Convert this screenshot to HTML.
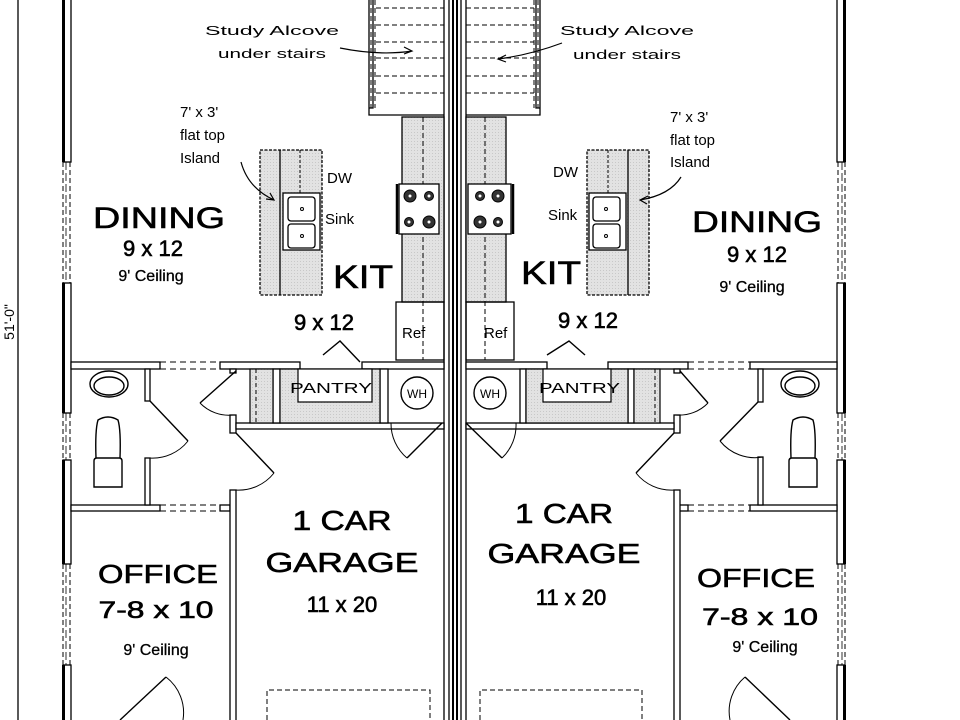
<!DOCTYPE html>
<html><head><meta charset="utf-8"><style>
html,body{margin:0;padding:0;background:#fff}
svg{display:block}
text{font-family:"Liberation Sans",sans-serif;fill:#000}
.b{stroke:#000;stroke-width:0.6}
</style></head><body>
<svg width="960" height="720" viewBox="0 0 960 720" xmlns="http://www.w3.org/2000/svg">
<defs>
<pattern id="h" width="3" height="3" patternUnits="userSpaceOnUse"><rect width="3" height="3" fill="#e2e2e2"/><rect width="1" height="1" fill="#c8c8c8"/></pattern>
</defs>
<g stroke="#000" fill="none" stroke-width="1.3">
<line x1="18" y1="0" x2="18" y2="720"/>
</g>
<text transform="translate(14,322) rotate(-90)" font-size="14" text-anchor="middle">51'-0"</text>

<g stroke="#000" stroke-width="1.3" fill="#fff">
<rect x="63" y="-5" width="8" height="167"/><rect x="63" y="283" width="8" height="130"/><rect x="63" y="460" width="8" height="104"/><rect x="63" y="665" width="8" height="60"/>
<rect x="837" y="-5" width="8" height="167"/><rect x="837" y="283" width="8" height="130"/><rect x="837" y="460" width="8" height="104"/><rect x="837" y="665" width="8" height="60"/>
</g>
<g fill="#000">
<rect x="62" y="-5" width="3" height="167"/><rect x="62" y="283" width="3" height="130"/><rect x="62" y="460" width="3" height="104"/><rect x="62" y="665" width="3" height="60"/>
<rect x="843" y="-5" width="3" height="167"/><rect x="843" y="283" width="3" height="130"/><rect x="843" y="460" width="3" height="104"/><rect x="843" y="665" width="3" height="60"/>
</g>
<g stroke="#000" stroke-width="1" stroke-dasharray="5,3">
<path d="M63 162V283M70 162V283M63 413V460M70 413V460M63 564V665M70 564V665"/>
<path d="M838 162V283M845 162V283M838 413V460M845 413V460M838 564V665M845 564V665"/>
</g>
<g stroke="#000" stroke-width="0.8" stroke-dasharray="8,3">
<path d="M66 162V283M66 413V460M66 564V665M842 162V283M842 413V460M842 564V665"/>
</g>

<g stroke="#000" stroke-width="1.3" fill="none">
<path d="M369 0V115H444M540 0V115H466"/>
<path d="M373 0V108H369M536 0V108H540"/>
</g>
<g stroke="#000" stroke-width="1" stroke-dasharray="5,3" fill="none">
<path d="M376 8H444M376 25H444M376 42H444M376 58H444M376 76H444M376 93H444"/>
<path d="M466 8H534M466 25H534M466 42H534M466 58H534M466 76H534M466 93H534"/>
<path d="M371 0V108M375 0V108M534 0V108M538 0V108"/>
</g>

<g stroke="#000" stroke-width="1.3">
<line x1="444" y1="0" x2="444" y2="720"/><line x1="449" y1="0" x2="449" y2="720"/>
<line x1="461" y1="0" x2="461" y2="720"/><line x1="466" y1="0" x2="466" y2="720"/>
</g>
<rect x="452" y="0" width="6" height="720" fill="#000"/>
<rect x="454" y="0" width="2" height="720" fill="#fff"/>

<g stroke="#000" stroke-width="1.3">
<rect x="402" y="117" width="42" height="185" fill="url(#h)"/>
<rect x="466" y="117" width="40" height="185" fill="url(#h)"/>
<line x1="423" y1="117" x2="423" y2="360" stroke-dasharray="5,3" stroke-width="1"/>
<line x1="485" y1="117" x2="485" y2="360" stroke-dasharray="5,3" stroke-width="1"/>
<rect x="399" y="184" width="40" height="50" fill="#fff"/>
<rect x="468" y="184" width="43" height="50" fill="#fff"/>
<line x1="397" y1="184" x2="397" y2="234" stroke-width="2.5"/>
<line x1="513" y1="184" x2="513" y2="234" stroke-width="2.5"/>
<rect x="396" y="302" width="48" height="58" fill="none"/>
<rect x="466" y="302" width="48" height="58" fill="none"/>
</g>
<g fill="#333" stroke="#000">
<circle cx="410" cy="196" r="6"/><circle cx="429" cy="196" r="4.5"/><circle cx="409" cy="222" r="4.5"/><circle cx="429" cy="222" r="6"/>
<circle cx="480" cy="196" r="4.5"/><circle cx="498" cy="196" r="6"/><circle cx="480" cy="222" r="6"/><circle cx="498" cy="222" r="4.5"/>
</g>
<g fill="#fff"><circle cx="410" cy="196" r="1.5"/><circle cx="429" cy="196" r="1.5"/><circle cx="409" cy="222" r="1.5"/><circle cx="429" cy="222" r="1.5"/><circle cx="480" cy="196" r="1.5"/><circle cx="498" cy="196" r="1.5"/><circle cx="480" cy="222" r="1.5"/><circle cx="498" cy="222" r="1.5"/></g>

<g stroke="#000" stroke-width="1.3">
<rect x="260" y="150" width="62" height="145" fill="url(#h)" stroke-dasharray="3,1.5"/>
<line x1="280" y1="150" x2="280" y2="295"/>
<rect x="283" y="193" width="37" height="57" fill="#fff"/>
<rect x="288" y="197" width="27" height="24" rx="3" fill="#fff"/><rect x="288" y="224" width="27" height="24" rx="3" fill="#fff"/>
<rect x="587" y="150" width="62" height="145" fill="url(#h)" stroke-dasharray="3,1.5"/>
<line x1="628" y1="150" x2="628" y2="295"/>
<rect x="589" y="193" width="37" height="57" fill="#fff"/>
<rect x="593" y="197" width="27" height="24" rx="3" fill="#fff"/><rect x="593" y="224" width="27" height="24" rx="3" fill="#fff"/>
</g>
<g stroke="#000" stroke-width="1" fill="none">
<line x1="300" y1="150" x2="300" y2="193" stroke-dasharray="3,2"/>
<line x1="608" y1="150" x2="608" y2="193" stroke-dasharray="3,2"/>
<circle cx="302" cy="209" r="1.5"/><circle cx="302" cy="236" r="1.5"/>
<circle cx="606" cy="209" r="1.5"/><circle cx="606" cy="236" r="1.5"/>
</g>

<g stroke="#000" stroke-width="1.2" fill="none">
<path d="M340 48 Q380 56 412 51M404 47L412 51L404 54"/>
<path d="M562 43 Q530 55 498 59M506 55L498 59L506 62"/>
<path d="M241 162 Q248 188 274 200M266 199L274 200L270 193"/>
<path d="M681 177 Q670 195 640 200M648 196L640 200L647 204"/>
</g>

<g stroke="#000" stroke-width="1.3" fill="#fff">
<rect x="71" y="362" width="89" height="7"/>
<rect x="220" y="362" width="80" height="7"/>
<rect x="362" y="362" width="82" height="7"/>
<rect x="466" y="362" width="81" height="7"/>
<rect x="608" y="362" width="80" height="7"/>
<rect x="750" y="362" width="87" height="7"/>
<rect x="71" y="505" width="89" height="6"/>
<rect x="220" y="505" width="10" height="6"/>
<rect x="678" y="505" width="10" height="6"/>
<rect x="750" y="505" width="87" height="6"/>
<rect x="145" y="369" width="5" height="32"/><rect x="145" y="458" width="5" height="47"/>
<rect x="758" y="369" width="5" height="33"/><rect x="758" y="457" width="5" height="48"/>
<rect x="230" y="369" width="6" height="4"/><rect x="230" y="415" width="6" height="18"/><rect x="230" y="490" width="6" height="235"/>
<rect x="674" y="369" width="6" height="4"/><rect x="674" y="415" width="6" height="18"/><rect x="674" y="490" width="6" height="235"/>
<rect x="236" y="423" width="208" height="6"/>
<rect x="466" y="423" width="208" height="6"/>
<rect x="273" y="369" width="7" height="54"/><rect x="380" y="369" width="8" height="54"/>
<rect x="520" y="369" width="6" height="54"/><rect x="628" y="369" width="6" height="54"/>
</g>
<g stroke="#000" stroke-width="1" stroke-dasharray="6,4">
<path d="M160 362H220M160 369H220M160 505H220M160 511H220M688 362H750M688 369H750M688 505H750M688 511H750"/>
</g>
<g stroke="#000" stroke-width="1.2">
<rect x="250" y="369" width="23" height="54" fill="url(#h)"/>
<line x1="256" y1="369" x2="256" y2="423" stroke-dasharray="4,3" stroke-width="1"/>
<path d="M280 369H380V423H280Z" fill="url(#h)"/>
<rect x="298" y="369" width="74" height="33" fill="#fff"/>
<path d="M526 369H628V423H526Z" fill="url(#h)"/>
<rect x="543" y="369" width="68" height="33" fill="#fff"/>
<rect x="634" y="369" width="26" height="54" fill="url(#h)"/>
<line x1="655" y1="369" x2="655" y2="423" stroke-dasharray="4,3" stroke-width="1"/>
</g>
<g stroke="#000" stroke-width="1.4" fill="none">
<path d="M323 355L340 341L360 362"/>
<path d="M547 355L569 341L585 355"/>
<path d="M150 401L188 441"/><path d="M188 441A45 45 0 0 1 150 458" stroke-width="1"/>
<path d="M758 402L720 441"/><path d="M720 441A45 45 0 0 0 763 457" stroke-width="1"/>
<path d="M236 371L200 403"/><path d="M200 403A40 40 0 0 0 233 415" stroke-width="1"/>
<path d="M680 371L708 403"/><path d="M708 403A40 40 0 0 1 676 415" stroke-width="1"/>
<path d="M236 433L274 473"/><path d="M274 473A45 45 0 0 1 236 490" stroke-width="1"/>
<path d="M674 433L636 473"/><path d="M636 473A45 45 0 0 0 674 490" stroke-width="1"/>
<path d="M442 423L407 458"/><path d="M407 458A45 45 0 0 1 391 423" stroke-width="1"/>
<path d="M466 423L502 458"/><path d="M502 458A45 45 0 0 0 516 423" stroke-width="1"/>
<path d="M120 720L166 677"/><path d="M166 677A45 45 0 0 1 183 720" stroke-width="1"/>
<path d="M790 720L745 677"/><path d="M745 677A45 45 0 0 0 730 720" stroke-width="1"/>
<circle cx="417" cy="393" r="16"/><circle cx="490" cy="393" r="16"/>
<ellipse cx="109" cy="384" rx="19" ry="13"/><ellipse cx="109" cy="386" rx="15" ry="9"/>
<ellipse cx="800" cy="384" rx="19" ry="13"/><ellipse cx="800" cy="386" rx="15" ry="9"/>
<path d="M94 487V461Q94 458 97 458H119Q122 458 122 461V487Z"/>
<path d="M96 458Q95 430 98 420Q108 414 118 420Q121 430 120 458"/>
<path d="M789 487V461Q789 458 792 458H814Q817 458 817 461V487Z"/>
<path d="M791 458Q790 430 793 420Q803 414 813 420Q816 430 815 458"/>
</g>
<g stroke="#000" stroke-width="1" stroke-dasharray="5,3" fill="none">
<path d="M267 720V690H430V720"/>
<path d="M480 720V690H642V720"/>
</g>

<g font-size="13">
<text x="272" y="35" text-anchor="middle" textLength="134" lengthAdjust="spacingAndGlyphs">Study Alcove</text>
<text x="272" y="58" text-anchor="middle" textLength="108" lengthAdjust="spacingAndGlyphs">under stairs</text>
<text x="627" y="35" text-anchor="middle" textLength="134" lengthAdjust="spacingAndGlyphs">Study Alcove</text>
<text x="627" y="59" text-anchor="middle" textLength="108" lengthAdjust="spacingAndGlyphs">under stairs</text>
<text x="180" y="117" font-size="15">7' x 3'</text>
<text x="180" y="140" font-size="15">flat top</text>
<text x="180" y="163" font-size="15">Island</text>
<text x="670" y="122" font-size="15">7' x 3'</text>
<text x="670" y="145" font-size="15">flat top</text>
<text x="670" y="167" font-size="15">Island</text>
<text x="327" y="183" font-size="15">DW</text>
<text x="325" y="224" font-size="15">Sink</text>
<text x="553" y="177" font-size="15">DW</text>
<text x="548" y="220" font-size="15">Sink</text>
<text x="402" y="338" font-size="15">Ref</text>
<text x="484" y="338" font-size="15">Ref</text>
<text x="417" y="398" font-size="12" text-anchor="middle">WH</text>
<text x="490" y="398" font-size="12" text-anchor="middle">WH</text>
<text x="290" y="393" font-size="15" textLength="82" lengthAdjust="spacingAndGlyphs">PANTRY</text>
<text x="539" y="393" font-size="15" textLength="81" lengthAdjust="spacingAndGlyphs">PANTRY</text>
</g>
<g class="b">
<text x="93" y="228" font-size="30" textLength="132" lengthAdjust="spacingAndGlyphs">DINING</text>
<text x="153" y="256" font-size="22" text-anchor="middle">9 x 12</text>
<text x="151" y="281" font-size="16" text-anchor="middle" stroke-width="0.3">9' Ceiling</text>
<text x="333" y="288" font-size="32" textLength="60" lengthAdjust="spacingAndGlyphs">KIT</text>
<text x="324" y="330" font-size="22" text-anchor="middle">9 x 12</text>
<text x="692" y="232" font-size="30" textLength="130" lengthAdjust="spacingAndGlyphs">DINING</text>
<text x="757" y="262" font-size="22" text-anchor="middle">9 x 12</text>
<text x="752" y="292" font-size="16" text-anchor="middle" stroke-width="0.3">9' Ceiling</text>
<text x="521" y="284" font-size="32" textLength="60" lengthAdjust="spacingAndGlyphs">KIT</text>
<text x="588" y="328" font-size="22" text-anchor="middle">9 x 12</text>

<text x="342" y="530" font-size="28" text-anchor="middle" textLength="99" lengthAdjust="spacingAndGlyphs">1 CAR</text>
<text x="342" y="572" font-size="28" text-anchor="middle" textLength="153" lengthAdjust="spacingAndGlyphs">GARAGE</text>
<text x="342" y="612" font-size="22" text-anchor="middle">11 x 20</text>
<text x="564" y="523" font-size="28" text-anchor="middle" textLength="98" lengthAdjust="spacingAndGlyphs">1 CAR</text>
<text x="564" y="563" font-size="28" text-anchor="middle" textLength="153" lengthAdjust="spacingAndGlyphs">GARAGE</text>
<text x="571" y="605" font-size="22" text-anchor="middle">11 x 20</text>

<text x="158" y="583" font-size="26" text-anchor="middle" textLength="120" lengthAdjust="spacingAndGlyphs">OFFICE</text>
<text x="156" y="618" font-size="24" text-anchor="middle" textLength="115" lengthAdjust="spacingAndGlyphs">7-8 x 10</text>
<text x="156" y="655" font-size="16" text-anchor="middle" stroke-width="0.3">9' Ceiling</text>
<text x="756" y="587" font-size="26" text-anchor="middle" textLength="118" lengthAdjust="spacingAndGlyphs">OFFICE</text>
<text x="760" y="625" font-size="24" text-anchor="middle" textLength="116" lengthAdjust="spacingAndGlyphs">7-8 x 10</text>
<text x="765" y="652" font-size="16" text-anchor="middle" stroke-width="0.3">9' Ceiling</text>
</g>
</svg>
</body></html>
